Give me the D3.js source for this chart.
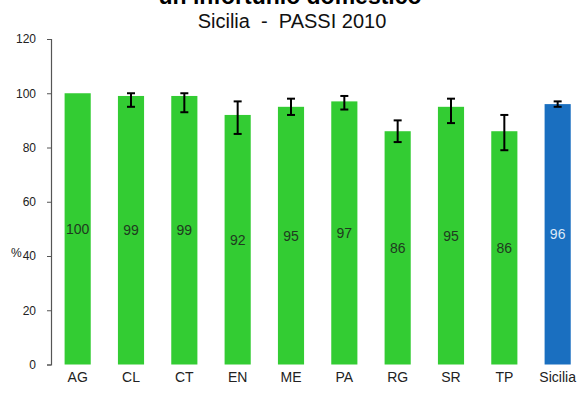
<!DOCTYPE html>
<html><head><meta charset="utf-8">
<script src="https://cdn.jsdelivr.net/npm/d3@7"></script>
<style>body{margin:0;background:#fff}svg{display:block}</style>
</head><body>
<script>
const categories = ["AG","CL","CT","EN","ME","PA","RG","SR","TP","Sicilia"];
const values = [100,99,99,92,95,97,86,95,86,96];
const errLow = [null,95,93,85,92,94,82,89,79,95];
const errHigh = [null,100,100,97,98,99,90,98,92,97];
const yTicks = [0,20,40,60,80,100,120];
const titleText = "un infortunio domestico";
const subtitleText = "Sicilia\u00a0 -\u00a0 PASSI 2010";

const W = 579, H = 393;
const FONT = "Liberation Sans, Arial, sans-serif";
const svg = d3.select("body").append("svg").attr("width", W).attr("height", H);

const y = d3.scaleLinear().domain([0,120]).range([364.5, 39]);
const x = d3.scaleBand().domain(categories).range([51, 584.33]).paddingInner(0.51).paddingOuter(0.255);

// titles
svg.append("text").attr("x", 290).attr("y", 4).attr("text-anchor","middle")
  .attr("font-family", FONT).attr("font-weight","bold")
  .attr("font-size", 23).attr("fill","#000").text(titleText);
svg.append("text").attr("x", 292).attr("y", 28).attr("text-anchor","middle")
  .attr("font-family", FONT)
  .attr("font-size", 20).attr("fill","#111").text(subtitleText);

// y axis
const yAxis = svg.append("g").attr("transform","translate(51,0)")
  .call(d3.axisLeft(y).tickValues(yTicks).tickSize(4).tickPadding(11).tickSizeOuter(4));
yAxis.select(".domain").attr("stroke","#555").attr("stroke-width",1.2);
yAxis.selectAll(".tick line").attr("stroke","#555");
yAxis.selectAll(".tick text").attr("font-family", FONT)
  .attr("font-size", 12).attr("fill","#222");

svg.append("text").attr("x", 11).attr("y", 257)
  .attr("font-family", FONT).attr("font-size", 12).attr("fill","#222").text("%");

// bars
const data = categories.map((c,i)=>({c, v: values[i], lo: errLow[i], hi: errHigh[i]}));
svg.selectAll("rect.bar").data(data).join("rect").attr("class","bar")
  .attr("x", d=>x(d.c)).attr("width", x.bandwidth())
  .attr("y", d=>y(d.v)).attr("height", d=>y(0)-y(d.v))
  .attr("fill", d=>d.c==="Sicilia" ? "#1a6fc0" : "#33cc33");

// value labels
svg.selectAll("text.val").data(data).join("text").attr("class","val")
  .attr("x", d=>x(d.c)+x.bandwidth()/2).attr("y", d=>y(d.v/2)+5)
  .attr("text-anchor","middle").attr("font-family", FONT)
  .attr("font-size", 14).attr("fill", d=>d.c==="Sicilia" ? "#dce9f7" : "#1f3a1f").text(d=>d.v);

// error bars
const eb = svg.selectAll("g.err").data(data.filter(d=>d.lo!=null)).join("g").attr("class","err")
  .attr("stroke","#000").attr("stroke-width",2);
eb.append("line").attr("x1", d=>x(d.c)+x.bandwidth()/2).attr("x2", d=>x(d.c)+x.bandwidth()/2)
  .attr("y1", d=>y(d.lo)).attr("y2", d=>y(d.hi));
eb.append("line").attr("x1", d=>x(d.c)+x.bandwidth()/2-4).attr("x2", d=>x(d.c)+x.bandwidth()/2+4)
  .attr("y1", d=>y(d.lo)).attr("y2", d=>y(d.lo));
eb.append("line").attr("x1", d=>x(d.c)+x.bandwidth()/2-4).attr("x2", d=>x(d.c)+x.bandwidth()/2+4)
  .attr("y1", d=>y(d.hi)).attr("y2", d=>y(d.hi));

// category labels
svg.selectAll("text.cat").data(categories).join("text").attr("class","cat")
  .attr("x", d=>x(d)+x.bandwidth()/2).attr("y", 382)
  .attr("text-anchor","middle").attr("font-family", FONT)
  .attr("font-size", 14).attr("fill","#222").text(d=>d);
</script>
</body></html>
